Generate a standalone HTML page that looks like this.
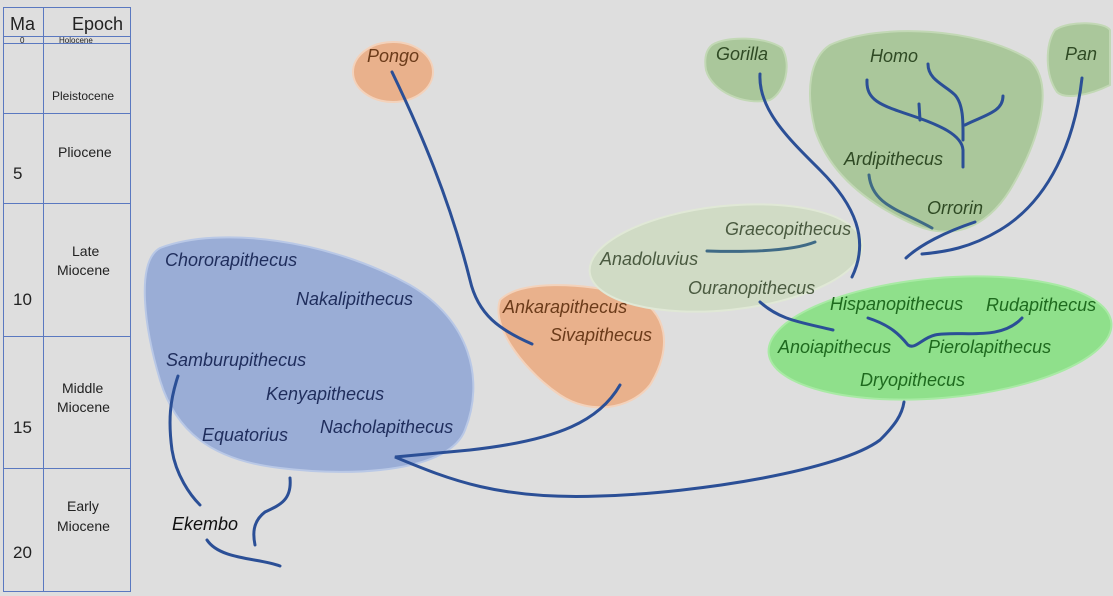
<!DOCTYPE html>
<html><head><meta charset="utf-8"><style>
html,body{margin:0;padding:0;background:#dedede;}
svg{display:block;}
text{font-family:"Liberation Sans",sans-serif;}
.i{font-style:italic;font-size:18px;}
</style></head><body>
<svg width="1113" height="596" viewBox="0 0 1113 596" xmlns="http://www.w3.org/2000/svg">
<rect width="1113" height="596" fill="#dedede"/>
<g stroke="#5a78c0" stroke-width="1" fill="none">
<rect x="3.5" y="7.5" width="127" height="584"/>
<line x1="43.5" y1="7" x2="43.5" y2="592"/>
<line x1="3" y1="36.5" x2="131" y2="36.5"/>
<line x1="3" y1="43.5" x2="131" y2="43.5"/>
<line x1="3" y1="113.5" x2="131" y2="113.5"/>
<line x1="3" y1="203.5" x2="131" y2="203.5"/>
<line x1="3" y1="336.5" x2="131" y2="336.5"/>
<line x1="3" y1="468.5" x2="131" y2="468.5"/>
</g>
<g fill="#222">
<text x="10" y="30" font-size="18">Ma</text>
<text x="72" y="30" font-size="18">Epoch</text>
<text x="20" y="43" font-size="8">0</text>
<text x="59" y="43" font-size="8">Holocene</text>
<text x="52" y="100" font-size="12">Pleistocene</text>
<text x="58" y="157" font-size="14">Pliocene</text>
<text x="13" y="179" font-size="17">5</text>
<text x="72" y="256" font-size="14">Late</text>
<text x="57" y="275" font-size="14">Miocene</text>
<text x="13" y="305" font-size="17">10</text>
<text x="62" y="393" font-size="14">Middle</text>
<text x="57" y="412" font-size="14">Miocene</text>
<text x="13" y="433" font-size="17">15</text>
<text x="67" y="511" font-size="14">Early</text>
<text x="57" y="531" font-size="14">Miocene</text>
<text x="13" y="558" font-size="17">20</text>
</g>
<ellipse cx="393" cy="72" rx="40" ry="30" fill="#e9b18c" stroke="#f3d2bb" stroke-width="2"/>
<path d="M160,248 C220,225 330,240 410,285 C470,320 485,380 465,430 C450,470 360,478 280,468 C210,460 175,430 160,380 C145,330 135,262 160,248 Z" fill="#9aadd6" stroke="#b9c8e6" stroke-width="2"/>
<path d="M500,300 C520,280 580,282 630,295 C670,310 672,350 650,385 C630,410 590,415 560,395 C530,375 490,330 500,300 Z" fill="#e9b18c" stroke="#f3d2bb" stroke-width="2"/>
<ellipse cx="726" cy="258" rx="137" ry="52" transform="rotate(-6 726 258)" fill="#d0dbc5" stroke="#e0e8d6" stroke-width="2"/>
<path d="M712,45 C725,36 765,36 782,48 C792,65 785,92 770,100 C745,106 712,92 706,70 C704,58 706,50 712,45 Z" fill="#aac79b" stroke="#c2d8b5" stroke-width="2"/>
<path d="M830,45 C880,22 980,28 1030,60 C1055,85 1040,140 1010,190 C985,230 950,240 915,225 C870,205 830,175 815,130 C805,90 810,58 830,45 Z" fill="#aac79b" stroke="#c2d8b5" stroke-width="2"/>
<path d="M1055,30 C1070,20 1105,22 1110,30 L1110,85 C1090,95 1065,100 1057,92 C1045,75 1045,45 1055,30 Z" fill="#aac79b" stroke="#c2d8b5" stroke-width="2"/>
<ellipse cx="940" cy="338" rx="172" ry="60" transform="rotate(-5 940 338)" fill="#8fe08b" stroke="#a8eaa4" stroke-width="2"/>
<g fill="none" stroke="#2b4f96" stroke-width="3" stroke-linecap="round">
<path d="M392,72 C420,130 450,200 470,280 C478,315 500,330 532,344"/>
<path d="M620,385 C600,420 560,440 470,450 L395,457 C450,480 500,500 600,496 C700,493 840,470 880,440 C895,425 902,415 904,402"/>
<path d="M178,376 C170,400 168,420 172,450 C176,475 190,495 200,505"/>
<path d="M290,478 C292,500 280,505 265,512 C252,522 253,535 255,545"/>
<path d="M207,540 C220,560 260,558 280,566"/>
<path d="M760,74 C758,110 790,140 820,170 C855,205 870,240 852,277"/>
<path d="M1082,78 C1075,140 1050,200 1000,230 C970,248 945,252 922,254"/>
<path d="M975,222 C945,232 920,245 906,258"/>
<path d="M867,80 C866,100 880,105 910,115 C940,125 962,135 963,150 L963,167"/>
<path d="M919,104 L920,120"/>
<path d="M928,64 C928,80 945,85 955,95 C964,105 963,125 963,140"/>
<path d="M1003,96 C1003,112 985,115 965,125"/>
<path d="M760,302 C780,320 800,322 833,330"/>
<path d="M868,318 C890,325 900,335 908,345 C915,350 922,338 935,335 C960,330 1000,342 1022,318"/>
</g>
<g fill="none" stroke="#3f6a86" stroke-width="3" stroke-linecap="round">
<path d="M869,175 C872,205 900,210 932,228"/>
<path d="M707,251 C740,252 790,252 815,242"/>
</g>
<g>
<text x="367" y="62" fill="#6b3b1a" class="i">Pongo</text>
<text x="165" y="266" fill="#1f2d5c" class="i">Chororapithecus</text>
<text x="296" y="305" fill="#1f2d5c" class="i">Nakalipithecus</text>
<text x="166" y="366" fill="#1f2d5c" class="i">Samburupithecus</text>
<text x="266" y="400" fill="#1f2d5c" class="i">Kenyapithecus</text>
<text x="320" y="433" fill="#1f2d5c" class="i">Nacholapithecus</text>
<text x="202" y="441" fill="#1f2d5c" class="i">Equatorius</text>
<text x="172" y="530" fill="#111" class="i">Ekembo</text>
<text x="503" y="313" fill="#6b3b1a" class="i">Ankarapithecus</text>
<text x="550" y="341" fill="#6b3b1a" class="i">Sivapithecus</text>
<text x="716" y="60" fill="#2f4a24" class="i">Gorilla</text>
<text x="870" y="62" fill="#2f4a24" class="i">Homo</text>
<text x="1065" y="60" fill="#2f4a24" class="i">Pan</text>
<text x="844" y="165" fill="#2f4a24" class="i">Ardipithecus</text>
<text x="927" y="214" fill="#2f4a24" class="i">Orrorin</text>
<text x="725" y="235" fill="#4a5a40" class="i">Graecopithecus</text>
<text x="600" y="265" fill="#4a5a40" class="i">Anadoluvius</text>
<text x="688" y="294" fill="#4a5a40" class="i">Ouranopithecus</text>
<text x="830" y="310" fill="#1e6a1e" class="i">Hispanopithecus</text>
<text x="986" y="311" fill="#1e6a1e" class="i">Rudapithecus</text>
<text x="778" y="353" fill="#1e6a1e" class="i">Anoiapithecus</text>
<text x="928" y="353" fill="#1e6a1e" class="i">Pierolapithecus</text>
<text x="860" y="386" fill="#1e6a1e" class="i">Dryopithecus</text>
</g>
</svg>
</body></html>
